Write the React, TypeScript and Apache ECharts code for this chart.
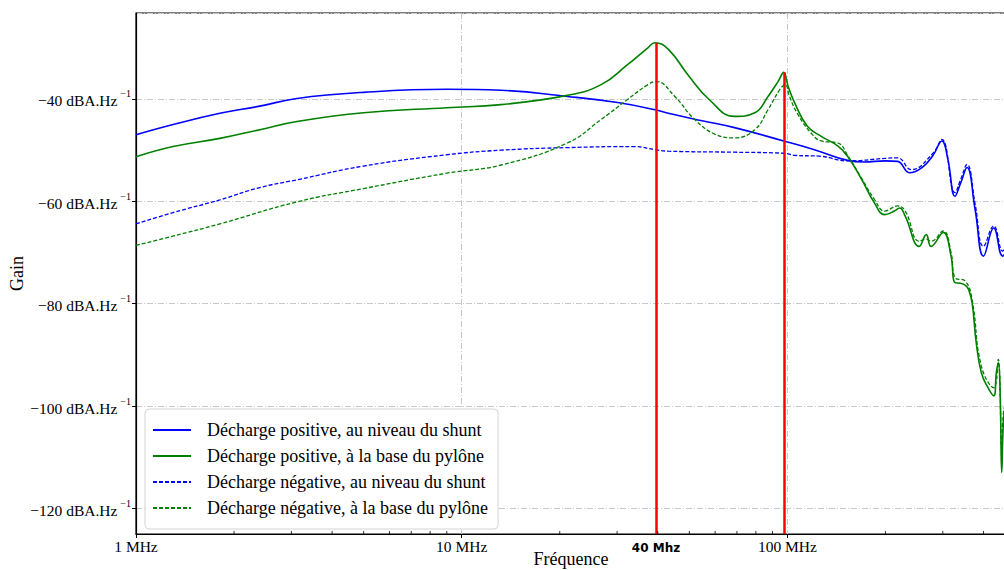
import React, { useEffect, useRef } from "react";
import * as echarts from "echarts";

// ---- data (frequency in MHz, gain in dB) ----
const posShuntFreq = [1, 1.3, 1.81, 2.4, 3.12, 5.0, 9.0, 13.2, 21.1, 30.1, 39.2, 43.1, 55.2, 68.8, 97.4, 121, 153, 172, 200, 218, 237, 259, 280, 298, 311, 327, 340, 356, 377, 400, 430, 458, 469];
const posShuntGain = [-47.0, -45.0, -42.8, -41.4, -39.9, -38.7, -38.1, -38.3, -39.5, -40.7, -42.1, -42.8, -44.3, -45.6, -48.2, -49.9, -52.0, -52.3, -52.1, -52.2, -54.4, -53.4, -51.0, -48.2, -51.8, -59.0, -56.5, -53.4, -61.6, -70.7, -65.2, -70.7, -70.0];

const posPyloneFreq = [1, 1.3, 1.81, 2.4, 3.12, 5.0, 9.0, 13.2, 21.1, 26.8, 32.3, 37.3, 39.2, 43.1, 49.8, 57.5, 68.8, 79.4, 87.2, 93.8, 97.4, 100.5, 105.2, 115, 127, 143, 153, 169, 185, 199, 213, 221, 230, 254, 267, 276, 301, 318, 327, 340, 352, 360, 369, 380, 394, 413, 430, 438, 444, 450, 455, 461, 469];
const posPyloneGain = [-51.3, -49.3, -47.7, -46.0, -44.4, -42.7, -41.7, -41.1, -39.3, -37.2, -33.3, -30.0, -29.0, -30.3, -35.5, -40.1, -43.4, -42.7, -39.5, -36.5, -34.8, -37.5, -40.7, -45.3, -47.3, -49.2, -51.2, -55.7, -60.3, -62.6, -61.9, -61.3, -62.9, -68.8, -66.5, -68.8, -66.1, -70.7, -75.9, -76.0, -76.4, -77.2, -79.8, -87.6, -93.5, -96.4, -98.0, -93.5, -91.5, -97.4, -113.0, -102.6, -99.3];

const negShuntFreq = [1, 1.3, 1.81, 2.4, 3.12, 5.0, 9.0, 13.2, 21.1, 33.8, 39.2, 43.1, 68.8, 97.4, 105, 127, 153, 200, 218, 240, 280, 298, 327, 340, 356, 377, 400, 430, 458, 469];
const negShuntGain = [-64.4, -62.2, -59.7, -57.3, -55.8, -53.1, -50.9, -50.0, -49.5, -49.3, -49.9, -50.2, -50.4, -50.6, -51.0, -51.2, -52.1, -51.6, -51.5, -53.8, -50.6, -47.9, -58.3, -55.8, -52.8, -60.5, -68.8, -64.8, -69.7, -68.5];

const negPyloneFreq = [1, 1.3, 1.81, 3.12, 5.0, 9.0, 13.2, 21.1, 26.8, 32.3, 37.3, 39.6, 45.1, 51.9, 60.0, 68.8, 79.4, 87.2, 94.9, 98.5, 101.5, 107, 118, 127, 143, 153, 169, 185, 199, 218, 230, 254, 267, 276, 301, 318, 327, 352, 369, 394, 430, 444, 455, 461, 469];
const negPyloneGain = [-68.6, -66.8, -64.4, -60.1, -57.5, -54.5, -52.9, -48.6, -44.0, -40.1, -37.2, -36.6, -39.5, -44.0, -46.9, -47.6, -46.0, -42.1, -38.1, -37.2, -39.5, -42.7, -46.6, -48.2, -48.6, -51.0, -55.5, -59.6, -61.9, -60.9, -61.9, -67.8, -67.4, -67.8, -65.8, -70.0, -74.9, -75.6, -79.2, -92.2, -96.4, -90.9, -107.8, -101.0, -99.3];

const seriesNames = [
  "Décharge positive, au niveau du shunt",
  "Décharge positive, à la base du pylône",
  "Décharge négative, au niveau du shunt",
  "Décharge négative, à la base du pylône",
];

const redLineFreqs = [39.5, 97.5];
const redLineTops = [-29.0, -34.8];
const redLineLabels = ["40 Mhz", ""];

const xTickValues = [1, 10, 100];
const xTickLabels = ["1 MHz", "10 MHz", "100 MHz"];
const minorTickFreqs = [2, 3, 4, 5, 6, 7, 8, 9, 20, 30, 40, 50, 60, 70, 80, 90, 200, 300, 400];

const yTickValues = [-40, -60, -80, -100, -120];
const yTickLabels = ["−40 dBA.Hz", "−60 dBA.Hz", "−80 dBA.Hz", "−100 dBA.Hz", "−120 dBA.Hz"];
const yTickSup = "−1";

const X_MIN = 1;
const X_MAX = 469;
const Y_MIN = -125;
const Y_MAX = -23.2;

const SERIF = "'Liberation Serif', 'DejaVu Serif', serif";

const pairs = (f: number[], g: number[]) => f.map((x, i) => [x, g[i]]);

export default function App() {
  const ref = useRef<HTMLDivElement>(null);
  useEffect(() => {
    const chart = echarts.init(ref.current as HTMLDivElement, null, { renderer: "svg" });
    const gridLine = { color: "#c8c8c8", width: 1, type: [6, 2, 1, 2] as any };
    const lineSeries = (i: number, f: number[], g: number[], color: string, dashed: boolean) => ({
      name: seriesNames[i],
      type: "line",
      data: pairs(f, g),
      showSymbol: false,
      symbol: "none",
      smooth: 0.45,
      lineStyle: dashed ? { color, width: 1.3, type: [4, 2] } : { color, width: 1.6 },
      itemStyle: { color },
      z: 3,
    });
    chart.setOption({
      animation: false,
      backgroundColor: "#ffffff",
      grid: {
        left: 136,
        right: -2,
        top: 13,
        bottom: 36,
        containLabel: false,
        outerBoundsMode: "none",
        show: true,
        borderColor: "#000",
        borderWidth: 1.2,
        backgroundColor: "transparent",
      },
      legend: {
        orient: "vertical",
        left: 145,
        top: 409,
        data: seriesNames,
        itemWidth: 38,
        itemHeight: 14,
        itemGap: 8,
        itemStyle: { opacity: 0 },
        backgroundColor: "#ffffff",
        borderColor: "#d4d4d4",
        borderWidth: 1,
        borderRadius: 4,
        padding: [12, 10, 12, 7],
        textStyle: {
          fontFamily: SERIF,
          fontSize: 18,
          color: "#000",
          lineHeight: 18,
          padding: [0, 0, 0, 11],
        },
      },
      xAxis: {
        type: "log",
        logBase: 10,
        min: X_MIN,
        max: X_MAX,
        name: "Fréquence",
        nameLocation: "middle",
        nameGap: 16,
        nameMoveOverlap: false,
        nameTextStyle: { fontFamily: SERIF, fontSize: 18, color: "#000" },
        axisLine: { show: true, lineStyle: { color: "#000", width: 1.2 } },
        axisTick: { show: true, length: 4, lineStyle: { color: "#000", width: 1 } },
        axisLabel: {
          show: true,
          margin: 4,
          showMaxLabel: false,
          fontFamily: SERIF,
          fontSize: 15.5,
          color: "#000",
          formatter: (v: number) => {
            const i = xTickValues.findIndex((t) => Math.abs(t - v) / t < 1e-6);
            return i < 0 ? "" : xTickLabels[i];
          },
        },
        splitLine: { show: true, lineStyle: gridLine },
      },
      yAxis: {
        type: "value",
        min: Y_MIN,
        max: Y_MAX,
        name: "Gain",
        nameLocation: "middle",
        nameGap: 110,
        nameMoveOverlap: false,
        nameRotate: 90,
        nameTextStyle: { fontFamily: SERIF, fontSize: 18, color: "#000" },
        axisLine: { show: true, lineStyle: { color: "#000", width: 1.2 } },
        axisTick: { show: true, length: 4, lineStyle: { color: "#000", width: 1 } },
        axisLabel: {
          margin: 5,
          showMinLabel: false,
          showMaxLabel: false,
          formatter: (v: number) => {
            const i = yTickValues.findIndex((t) => Math.abs(t - v) < 1e-6);
            return i < 0 ? "" : `{m|${yTickLabels[i]}}{s|${yTickSup}}`;
          },
          rich: {
            m: { fontFamily: SERIF, fontSize: 15.5, color: "#000", lineHeight: 20, verticalAlign: "bottom" },
            s: { fontFamily: SERIF, fontSize: 10, color: "#000", lineHeight: 20, verticalAlign: "top", padding: [0, 0, 0, 3] },
          },
        },
        splitLine: { show: true, lineStyle: gridLine },
      },
      series: [
        lineSeries(0, posShuntFreq, posShuntGain, "#0000ff", false),
        lineSeries(1, posPyloneFreq, posPyloneGain, "#008000", false),
        lineSeries(2, negShuntFreq, negShuntGain, "#0000ff", true),
        lineSeries(3, negPyloneFreq, negPyloneGain, "#008000", true),
        {
          name: "markers",
          type: "line",
          data: [],
          z: 6,
          markLine: {
            silent: true,
            symbol: ["none", "none"],
            lineStyle: { color: "#ff0000", width: 2.5, type: "solid" },
            data: redLineFreqs.map((f, i) => [
              {
                coord: [f, Y_MIN],
                label: {
                  show: redLineLabels[i] !== "",
                  position: "start",
                  distance: 8,
                  formatter: redLineLabels[i],
                  fontFamily: "'DejaVu Sans', sans-serif",
                  fontWeight: "bold",
                  fontSize: 12,
                  color: "#000",
                },
              },
              { coord: [f, redLineTops[i]] },
            ]),
          },
        },
        {
          name: "minorTicks",
          type: "custom",
          silent: true,
          clip: false,
          z: 7,
          data: minorTickFreqs.map((f) => [f, Y_MIN]),
          renderItem: (params: any, api: any) => {
            const p = api.coord([api.value(0), api.value(1)]);
            return {
              type: "line",
              shape: { x1: p[0], y1: p[1], x2: p[0], y2: p[1] - 3 },
              style: { stroke: "#000", lineWidth: 0.8 },
            };
          },
        },
      ],
    });
    return () => chart.dispose();
  }, []);
  return (
    <div
      ref={ref}
      style={{ position: "fixed", left: 0, top: 0, width: 1004, height: 570, background: "#fff" }}
    />
  );
}
